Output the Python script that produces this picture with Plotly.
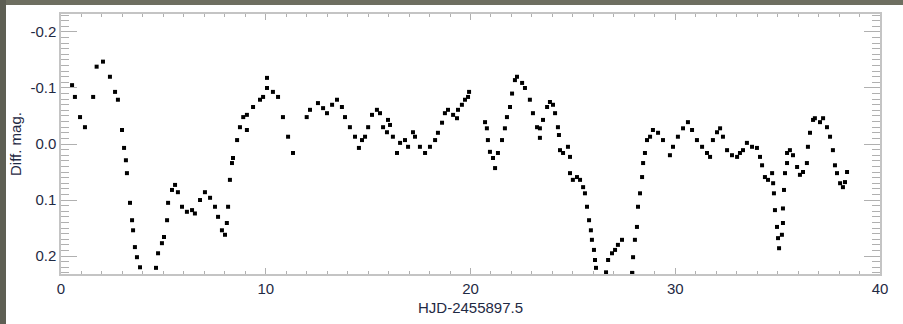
import plotly.graph_objects as go

# Light-curve points (HJD-2455897.5, differential magnitude)
hjd = [
    0.54, 0.68, 0.93, 1.17, 1.57, 1.74, 2.05, 2.39, 2.64, 2.78, 2.98, 3.08,
    3.17, 3.22, 3.37, 3.47, 3.52, 3.61, 3.71, 3.86,
    4.64, 4.74, 4.93, 5.03, 5.18, 5.23, 5.42, 5.57, 5.71, 5.91, 6.15, 6.40,
    6.54, 6.79, 7.03, 7.28, 7.52, 7.67, 7.86, 8.01, 8.10, 8.16, 8.25, 8.35,
    8.40, 8.60, 8.74, 8.90, 9.08, 9.08, 9.38, 9.72, 9.87, 10.06, 10.06, 10.35,
    10.60, 10.84, 11.09, 11.33,
    12.00, 12.16, 12.55, 12.80, 12.99, 13.24, 13.48, 13.72, 13.87, 14.11, 14.36,
    14.55, 14.70, 14.85, 15.00, 15.19, 15.43, 15.58, 15.73, 15.92, 15.97, 16.07,
    16.21, 16.41, 16.56, 16.80, 16.95, 17.19, 17.29, 17.53, 17.78, 18.02, 18.27,
    18.41, 18.61, 18.75, 18.90, 19.15, 19.34, 19.39, 19.58, 19.73, 19.88, 19.93,
    20.71, 20.80, 20.85, 20.95, 21.10, 21.20, 21.34, 21.54, 21.68, 21.78, 21.93,
    22.03, 22.17, 22.27, 22.52, 22.66, 22.90, 23.05, 23.25, 23.39, 23.39, 23.54,
    23.74, 23.88, 24.03, 24.13, 24.27, 24.32, 24.37, 24.52, 24.76, 24.86,
    24.86, 25.00, 25.20, 25.35, 25.50, 25.59, 25.69, 25.79, 25.88, 25.93, 26.03,
    26.08, 26.13,
    26.62, 26.72, 26.91, 27.06, 27.20, 27.40,
    27.89, 27.94, 28.03, 28.13, 28.18, 28.28, 28.38, 28.43,
    28.52, 28.62, 28.77, 28.91, 29.16, 29.40, 29.74, 29.89, 30.13, 30.38, 30.62,
    30.82, 31.06, 31.31, 31.55, 31.70, 31.84, 32.04, 32.19, 32.33, 32.53, 32.77,
    33.02, 33.16, 33.31, 33.50, 33.75, 33.99, 34.14,
    34.24, 34.38, 34.53, 34.73, 34.78, 34.82, 34.87, 34.97, 35.02, 35.07, 35.21,
    35.26, 35.26, 35.31, 35.36, 35.46,
    35.46, 35.60, 35.75, 35.95, 36.09, 36.24, 36.43, 36.48, 36.58, 36.73, 36.82,
    37.07, 37.22, 37.41, 37.56, 37.70, 37.80, 37.90, 38.05, 38.19, 38.29, 38.39,
]
dmag = [
    -0.105, -0.084, -0.048, -0.030, -0.084, -0.138, -0.147, -0.120, -0.093, -0.079, -0.025, 0.007,
    0.029, 0.052, 0.105, 0.136, 0.154, 0.184, 0.202, 0.220,
    0.221, 0.195, 0.177, 0.166, 0.136, 0.105, 0.082, 0.073, 0.086, 0.112, 0.121, 0.118,
    0.124, 0.100, 0.086, 0.096, 0.112, 0.130, 0.154, 0.162, 0.141, 0.112, 0.064, 0.034,
    0.025, -0.007, -0.030, -0.048, -0.052, -0.025, -0.066, -0.079, -0.084, -0.100, -0.118, -0.093,
    -0.084, -0.048, -0.013, 0.016,
    -0.048, -0.061, -0.073, -0.064, -0.055, -0.070, -0.079, -0.066, -0.048, -0.030, -0.013,
    0.007, -0.007, -0.013, -0.030, -0.052, -0.061, -0.055, -0.030, -0.021, -0.043, -0.034,
    -0.013, 0.016, -0.002, -0.007, 0.005, -0.021, -0.013, 0.005, 0.016, 0.005, -0.007,
    -0.020, -0.038, -0.055, -0.061, -0.052, -0.046, -0.061, -0.070, -0.079, -0.084, -0.093,
    -0.039, -0.028, -0.007, 0.014, 0.025, 0.043, 0.016, -0.007, -0.028, -0.048, -0.066,
    -0.090, -0.114, -0.120, -0.109, -0.100, -0.079, -0.055, -0.030, -0.028, -0.011, -0.043,
    -0.066, -0.075, -0.070, -0.055, -0.030, -0.016, 0.011, 0.016, 0.005, 0.023,
    0.052, 0.064, 0.059, 0.064, 0.077, 0.088, 0.112, 0.136, 0.154, 0.171, 0.189,
    0.207, 0.221,
    0.229, 0.207, 0.195, 0.189, 0.180, 0.171,
    0.230, 0.202, 0.171, 0.148, 0.112, 0.088, 0.059, 0.034,
    0.016, -0.007, -0.013, -0.025, -0.020, -0.007, 0.020, 0.005, -0.013, -0.028, -0.039,
    -0.025, -0.007, 0.005, 0.016, 0.023, -0.007, -0.021, -0.028, -0.013, 0.011, 0.020,
    0.023, 0.016, 0.011, -0.002, 0.005, 0.007, 0.023,
    0.038, 0.059, 0.064, 0.052, 0.070, 0.088, 0.118, 0.148, 0.168, 0.186, 0.162,
    0.141, 0.115, 0.082, 0.052, 0.034,
    0.016, 0.011, 0.020, 0.041, 0.055, 0.050, 0.034, 0.005, -0.020, -0.043, -0.046,
    -0.039, -0.046, -0.030, -0.013, 0.011, 0.038, 0.052, 0.070, 0.077, 0.068, 0.050,
]

x_tickvals = [0, 10, 20, 30, 40]
x_ticktext = ["0", "10", "20", "30", "40"]
y_tickvals = [-0.2, -0.1, 0.0, 0.1, 0.2]
y_ticktext = ["-0.2", "-0.1", "0.0", "0.1", "0.2"]

x_title = "HJD-2455897.5"
y_title = "Diff. mag."

L, R, T, B = 61, 23, 14, 50
W, H = 903, 324
pw, ph = W - L - R, H - T - B

fig = go.Figure()
fig.add_trace(go.Scatter(
    x=hjd, y=dmag, mode="markers",
    marker=dict(symbol="square", size=4, color="black", line=dict(width=0)),
    showlegend=False,
))

font = dict(family="Liberation Sans, Arial, Helvetica, sans-serif", size=15, color="#1f2a44")
axcol = "#c4c4c4"

fig.update_xaxes(
    range=[0, 40], tickmode="array", tickvals=x_tickvals, ticktext=x_ticktext,
    showgrid=False, zeroline=False,
    showline=True, linecolor=axcol, linewidth=1.5, mirror="ticks",
    ticks="inside", ticklen=6, tickcolor="#b0b0b0", tickwidth=1,
    minor=dict(ticks="inside", ticklen=3, dtick=1, tick0=0, tickcolor="#b0b0b0", showgrid=False),
    tickfont=font,
)
fig.update_yaxes(
    range=[0.232, -0.232], tickmode="array", tickvals=y_tickvals, ticktext=y_ticktext,
    showgrid=False, zeroline=False,
    showline=True, linecolor=axcol, linewidth=1.5, mirror="ticks",
    ticks="inside", ticklen=16, tickcolor="#b0b0b0", tickwidth=1,
    minor=dict(ticks="inside", ticklen=8, dtick=0.01, tick0=0, tickcolor="#b0b0b0", showgrid=False),
    tickfont=font,
)

fig.update_layout(
    width=W, height=H,
    margin=dict(l=L, r=R, t=T, b=B),
    paper_bgcolor="white", plot_bgcolor="white",
    shapes=[
        dict(type="rect", xref="paper", yref="paper", layer="above",
             x0=-L / pw, x1=(W - L) / pw, y0=(H - B - 5) / ph, y1=(H - B) / ph,
             fillcolor="#6e6f61", line=dict(width=0)),
        dict(type="rect", xref="paper", yref="paper", layer="above",
             x0=-L / pw, x1=(6 - L) / pw, y0=-B / ph, y1=(H - B) / ph,
             fillcolor="#5e5f54", line=dict(width=0)),
    ],
    annotations=[
        dict(text=x_title, xref="paper", yref="paper", x=(470 - L) / pw, y=-(307 - (H - B)) / ph,
             xanchor="center", yanchor="middle", showarrow=False, font=font),
        dict(text=y_title, xref="paper", yref="paper", x=(15 - L) / pw, y=((H - B) - 144) / ph,
             xanchor="center", yanchor="middle", showarrow=False, textangle=-90, font=font),
    ],
)

fig.write_html(
    "out.html",
    config={"displayModeBar": False},
    post_script="document.body.style.margin='0';document.body.style.overflow='hidden';",
)
